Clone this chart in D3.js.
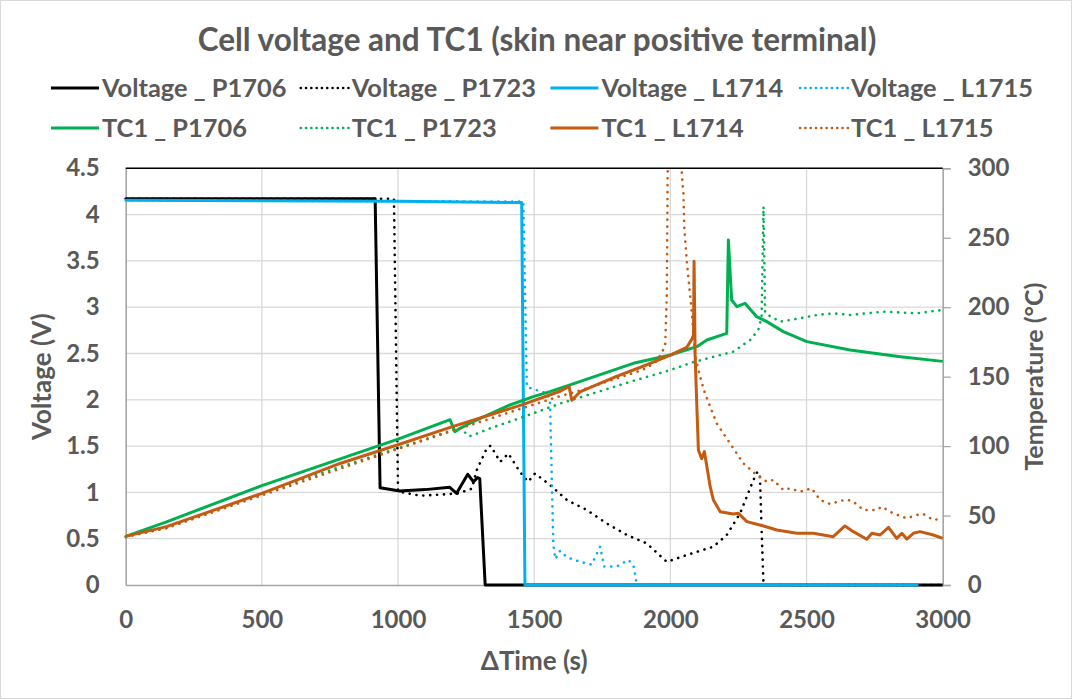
<!DOCTYPE html>
<html>
<head>
<meta charset="utf-8">
<script src="https://cdn.jsdelivr.net/npm/d3@7"></script>
<style>
  html, body { margin: 0; padding: 0; background: #fff; }
  svg { display: block; }
  text { font-family: Lato, "Open Sans", sans-serif; font-weight: bold; fill: #595959; }
</style>
</head>
<body>
<svg id="chart" width="1072" height="699"></svg>
<script>
// ---- data: [time (s), value] ----
const voltageP1706 = [[0,4.17],[300,4.17],[600,4.17],[916,4.17],[934,1.05],[1006,1.015],[1100,1.03],[1190,1.055],[1215,0.99],[1256,1.195],[1277,1.115],[1292,1.16],[1300,1.15],[1320,0],[3000,0]];
const voltageP1723 = [[0,4.17],[985,4.17],[1000,1.01],[1081,0.965],[1179,0.98],[1221,0.99],[1271,1.04],[1289,1.24],[1326,1.475],[1340,1.505],[1375,1.33],[1405,1.42],[1448,1.22],[1478,1.115],[1503,1.205],[1558,1.08],[1620,0.918],[1693,0.81],[1766,0.666],[1840,0.54],[1913,0.45],[1987,0.25],[2060,0.324],[2158,0.414],[2207,0.54],[2256,0.774],[2305,1.134],[2320,1.224],[2329,1.17],[2335,0.6],[2342,0],[3000,0]];
const voltageL1714 = [[0,4.155],[500,4.15],[1000,4.145],[1454,4.13],[1466,0],[2911,0]];
const voltageL1715 = [[0,4.155],[1460,4.14],[1473,2.14],[1509,2.105],[1546,2.07],[1558,2.0],[1570,0.45],[1577,0.28],[1595,0.37],[1620,0.3],[1668,0.252],[1711,0.22],[1742,0.414],[1757,0.2],[1803,0.2],[1846,0.27],[1864,0.216],[1877,0],[2911,0]];

const tc1P1706 = [[0,35],[150,45.5],[500,71.5],[1000,105],[1191,119],[1209,110.4],[1221,112],[1264,116.5],[1411,129.6],[1497,135.6],[1558,139.2],[1656,145.7],[1864,159.6],[2000,165.6],[2097,171.6],[2134,176.4],[2207,181.2],[2213,248.4],[2225,205.2],[2244,200.4],[2274,202.8],[2317,193.2],[2354,189.6],[2415,182.4],[2501,175.2],[2660,169.2],[2844,164.4],[3000,161]];
const tc1P1723 = [[0,35],[150,41],[500,66],[787,85],[1000,98.5],[1191,111],[1230,113],[1260,107],[1277,108],[1338,112.8],[1460,121],[1600,131],[1750,140],[1864,147],[1987,154],[2085,160.5],[2231,168],[2293,176.4],[2323,183.6],[2335,193.2],[2342,272.4],[2348,195.6],[2403,189.6],[2476,192],[2538,194.4],[2598,195.6],[2660,194.4],[2782,196.8],[2905,195.6],[3000,198]];
const tc1L1714 = [[0,35],[150,42],[500,66],[787,87.5],[1000,101],[1200,114],[1460,130],[1595,139.5],[1628,143],[1638,133],[1668,139],[1800,150],[1900,157.5],[2000,165.5],[2060,171],[2079,177],[2085,180],[2087,233],[2091,165],[2097,130],[2103,97],[2115,91],[2125,96],[2146,71],[2158,61.2],[2183,52.8],[2231,51.1],[2250,51.6],[2281,45.6],[2342,42.5],[2391,39.6],[2464,37.2],[2525,37.2],[2598,34.8],[2641,42.5],[2672,38.4],[2721,32.9],[2740,37.2],[2770,36],[2801,41.5],[2831,33.6],[2850,37.2],[2868,33.1],[2892,37.2],[2917,38.4],[2966,36],[3000,33.6]];
const tc1L1715 = [[0,34.5],[150,41],[500,64.5],[1000,98],[1200,111],[1460,127.5],[1595,136],[1668,140],[1800,148.5],[1900,155],[1944,160],[1962,165],[1981,172],[1987,210],[1991,320],[2038,320],[2042,296],[2048,282],[2051,258],[2060,234],[2079,195.6],[2091,164.4],[2109,150],[2127,138],[2170,116.4],[2219,102],[2268,87.6],[2317,79.2],[2354,74.4],[2378,75.6],[2415,68.4],[2440,69.6],[2476,67.2],[2519,69.6],[2550,61.2],[2587,58.3],[2624,60.5],[2648,61.5],[2672,60],[2709,54],[2758,54],[2776,56.4],[2819,51.6],[2868,48],[2905,50.4],[2929,51.1],[2966,46.8],[3000,48]];

const timeTicks = [0,500,1000,1500,2000,2500,3000];
const voltageTicks = [0,0.5,1,1.5,2,2.5,3,3.5,4,4.5];
const tempTicks = [0,50,100,150,200,250,300];

const series = [
  { name: "Voltage _ P1706", data: voltageP1706, axis: "v", color: "#000000", dotted: false },
  { name: "Voltage _ P1723", data: voltageP1723, axis: "v", color: "#000000", dotted: true },
  { name: "Voltage _ L1714", data: voltageL1714, axis: "v", color: "#00B0F0", dotted: false },
  { name: "Voltage _ L1715", data: voltageL1715, axis: "v", color: "#00B0F0", dotted: true },
  { name: "TC1 _ P1706", data: tc1P1706, axis: "t", color: "#00B050", dotted: false },
  { name: "TC1 _ P1723", data: tc1P1723, axis: "t", color: "#00B050", dotted: true },
  { name: "TC1 _ L1714", data: tc1L1714, axis: "t", color: "#C55A11", dotted: false },
  { name: "TC1 _ L1715", data: tc1L1715, axis: "t", color: "#C55A11", dotted: true }
];

// ---- layout ----
const W = 1072, H = 699;
const plot = { left: 125.7, right: 942.7, top: 168.3, bottom: 585 };

const svg = d3.select("#chart");

const x = d3.scaleLinear().domain([0, 3000]).range([plot.left, plot.right]);
const yV = d3.scaleLinear().domain([0, 4.5]).range([plot.bottom, plot.top]);
const yT = d3.scaleLinear().domain([0, 300]).range([plot.bottom, plot.top]);

// chart frame
svg.append("rect")
  .attr("x", 0.5).attr("y", 0.5).attr("width", W - 1).attr("height", H - 1)
  .attr("fill", "#fff").attr("stroke", "#D9D9D9").attr("stroke-width", 1);

// gridlines
const grid = svg.append("g");
grid.selectAll(".hg").data(voltageTicks.slice(1)).join("line")
  .attr("x1", plot.left).attr("x2", plot.right)
  .attr("y1", d => yV(d)).attr("y2", d => yV(d))
  .attr("stroke", "#D9D9D9").attr("stroke-width", 1.3);
grid.selectAll(".vg").data(timeTicks.slice(1, -1)).join("line")
  .attr("x1", d => x(d)).attr("x2", d => x(d))
  .attr("y1", plot.top).attr("y2", plot.bottom)
  .attr("stroke", "#D9D9D9").attr("stroke-width", 1.3);

// axes
const tickFont = "24px";
const axisLeft = d3.axisLeft(yV).tickValues(voltageTicks).tickSize(0).tickPadding(26).tickFormat(d => String(d));
const gL = svg.append("g").attr("transform", `translate(${plot.left},0)`).call(axisLeft);
gL.select(".domain").attr("stroke", "#A6A6A6").attr("stroke-width", 1.6);

const axisRight = d3.axisRight(yT).tickValues(tempTicks).tickSize(8).tickPadding(17).tickFormat(d => String(d));
const gR = svg.append("g").attr("transform", `translate(${plot.right},0)`).call(axisRight);
gR.select(".domain").attr("stroke", "#A6A6A6").attr("stroke-width", 1.6);
gR.selectAll(".tick line").attr("stroke", "#A6A6A6").attr("stroke-width", 1.3);

const axisBottom = d3.axisBottom(x).tickValues(timeTicks).tickSize(0).tickPadding(26).tickFormat(d => String(d));
const gB = svg.append("g").attr("transform", `translate(0,${plot.bottom})`).call(axisBottom);
gB.select(".domain").attr("stroke", "#A6A6A6").attr("stroke-width", 1.6);

[gL, gR, gB].forEach(g => {
  g.selectAll("text").style("font-size", tickFont).style("font-family", "Lato, sans-serif")
    .style("font-weight", "bold").attr("fill", "#595959");
});

// top border of plot area
svg.append("line")
  .attr("x1", plot.left).attr("x2", plot.right)
  .attr("y1", plot.top).attr("y2", plot.top)
  .attr("stroke", "#000").attr("stroke-width", 1.6);

// series
svg.append("clipPath").attr("id", "plotClip").append("rect")
  .attr("x", plot.left - 4).attr("y", plot.top)
  .attr("width", plot.right - plot.left + 8).attr("height", plot.bottom - plot.top + 4);

const lines = svg.append("g").attr("clip-path", "url(#plotClip)");
series.forEach(s => {
  const yScale = s.axis === "v" ? yV : yT;
  const line = d3.line().x(d => x(d[0])).y(d => yScale(d[1]));
  lines.append("path")
    .datum(s.data)
    .attr("d", line)
    .attr("fill", "none")
    .attr("stroke", s.color)
    .attr("stroke-width", s.dotted ? 2.6 : 3)
    .attr("stroke-linejoin", "round")
    .attr("stroke-linecap", s.dotted ? "round" : "butt")
    .attr("stroke-dasharray", s.dotted ? "0.1 6.8" : null);
});

// title
svg.append("text")
  .attr("x", 537).attr("y", 51)
  .attr("text-anchor", "middle")
  .style("font-size", "31.5px")
  .text("Cell voltage and TC1 (skin near positive terminal)");

// axis titles
svg.append("text")
  .attr("transform", `translate(51,${(plot.top + plot.bottom) / 2}) rotate(-90)`)
  .attr("text-anchor", "middle")
  .style("font-size", "26px")
  .text("Voltage (V)");

svg.append("text")
  .attr("transform", `translate(1043,${(plot.top + plot.bottom) / 2}) rotate(-90)`)
  .attr("text-anchor", "middle")
  .style("font-size", "25px")
  .text("Temperature (°C)");

svg.append("text")
  .attr("x", (plot.left + plot.right) / 2).attr("y", 670)
  .attr("text-anchor", "middle")
  .style("font-size", "26px")
  .text("ΔTime (s)");

// legend: two rows of four
const legend = svg.append("g");
series.forEach((s, i) => {
  const col = i % 4, row = Math.floor(i / 4);
  const lx = 51 + col * 249.7;
  const ly = 88 + row * 40;
  const g = legend.append("g");
  g.append("line")
    .attr("x1", lx).attr("x2", lx + 48)
    .attr("y1", ly).attr("y2", ly)
    .attr("stroke", s.color)
    .attr("stroke-width", s.dotted ? 2.6 : 3.2)
    .attr("stroke-linecap", s.dotted ? "round" : "butt")
    .attr("stroke-dasharray", s.dotted ? "0.1 5.2" : null);
  g.append("text")
    .attr("x", lx + 51).attr("y", ly + 8.5)
    .style("font-size", "25.4px")
    .text(s.name);
});
</script>
</body>
</html>
